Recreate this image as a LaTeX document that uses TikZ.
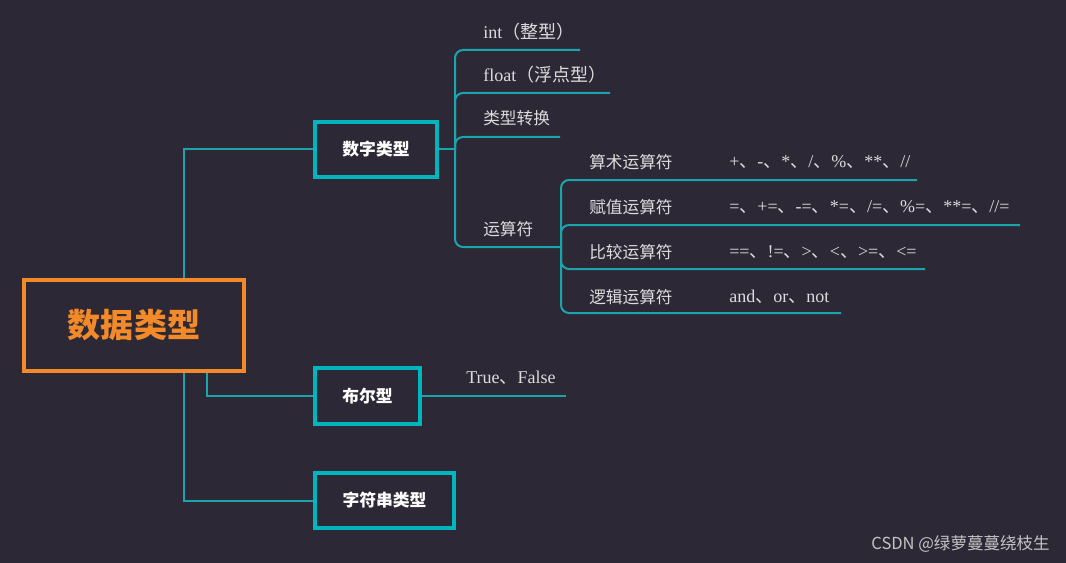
\documentclass[tikz,border=0pt]{standalone}
\usepackage{fontspec}
\setmainfont{Liberation Serif}
\newfontfamily\cjk{Noto Sans CJK SC}
\newcommand\cdun{{\cjk 、}}
\definecolor{bgc}{HTML}{2D2836}
\definecolor{lnc}{HTML}{1AA5AD}
\definecolor{bxc}{HTML}{00B5BE}
\definecolor{orc}{HTML}{F28A2A}
\definecolor{txc}{HTML}{DCDCDC}
\definecolor{wmc}{HTML}{C4C4C4}
\begin{document}
\begin{tikzpicture}[x=0.75pt,y=-0.75pt,
  conn/.style={draw=lnc,line width=1.5pt,rounded corners=6pt},
  subbox/.style={draw=bxc,line width=2.3pt,inner sep=0pt,text=white,font=\cjk\bfseries\fontsize{12.6pt}{14pt}\selectfont},
  rootbox/.style={draw=orc,line width=2.3pt,inner sep=0pt,text=orc,font=\cjk\bfseries\fontsize{24.8pt}{28pt}\selectfont,
    minimum width=165pt,minimum height=68.25pt},
  lab/.style={anchor=west,inner sep=0pt,text=txc,font=\fontsize{13.5pt}{15pt}\selectfont},
  clab/.style={lab,font=\cjk\fontsize{12.5pt}{14pt}\selectfont}]
\fill[bgc] (0,0) rectangle (1066,563);
\useasboundingbox (0,0) rectangle (1066,563);

% main nodes
\node[rootbox] (root) at (134,325.5) {数据类型};
\node[subbox,minimum width=91.5pt,minimum height=41.25pt] (num) at (376,149.5) {数字类型};
\node[subbox,minimum width=78.75pt,minimum height=42pt] (bool) at (367.5,396) {布尔型};
\node[subbox,minimum width=104.25pt,minimum height=41.25pt] (str) at (384.5,500.5) {字符串类型};

% trunk coordinates
\coordinate (t1) at (184,0);
\coordinate (t2) at (207,0);
\coordinate (j1) at (455,149.5);
\coordinate (j2) at (561,247);
\coordinate (e1) at (580,50);
\coordinate (e2) at (610,93);
\coordinate (e3) at (560,137);
\coordinate (s1) at (917,180);
\coordinate (s2) at (1020,225);
\coordinate (s3) at (925,269);
\coordinate (s4) at (841,313);
\coordinate (b1) at (566,396);

% root connectors
\draw[conn,rounded corners=0pt] (num.west) -| (root.north -| t1);
\draw[conn,rounded corners=0pt] (str.west) -| (root.south -| t1);
\draw[conn,rounded corners=0pt] (bool.west) -| (root.south -| t2);
\draw[conn] (bool.east) -- (b1);

% number children
\draw[conn,rounded corners=0pt] (num.east) -- (j1);
\draw[conn] (j1) |- (e1);
\draw[conn] (j1) |- (e2);
\draw[conn] (j1) |- (e3);
\draw[conn] (j1) |- (j2);
\draw[conn] (j2) |- (s1);
\draw[conn] (j2) |- (s2);
\draw[conn] (j2) |- (s3);
\draw[conn] (j2) |- (s4);

% labels
\node[lab] (l1) at (483,32) {int{\cjk（整型）}};
\node[lab] (l2) at (483,75) {float{\cjk（浮点型）}};
\node[clab] (l3) at (483,118) {类型转换};
\node[clab] (l4) at (483,229) {运算符};
\node[clab] (o1) at (589,162) {算术运算符};
\node[clab] (o2) at (589,207) {赋值运算符};
\node[clab] (o3) at (589,252) {比较运算符};
\node[clab] (o4) at (589,297) {逻辑运算符};
\node[lab] (v1) at (729,162) {+\cdun-\cdun*\cdun/\cdun\%\cdun**\cdun//};
\node[lab] (v2) at (729,207) {=\cdun+=\cdun-=\cdun*=\cdun/=\cdun\%=\cdun**=\cdun//=};
\node[lab] (v3) at (729,252) {==\cdun!=\cdun>\cdun<\cdun>=\cdun<=};
\node[lab] (v4) at (729,297) {and\cdun or\cdun not};
\node[lab] (tf) at (466,378) {True\cdun False};

% watermark
\node[anchor=east,inner sep=0pt,text=wmc,font=\cjk\fontsize{12.4pt}{14pt}\selectfont] (wm) at (1050,544) {CSDN @绿萝蔓蔓绕枝生};
\end{tikzpicture}
\end{document}
